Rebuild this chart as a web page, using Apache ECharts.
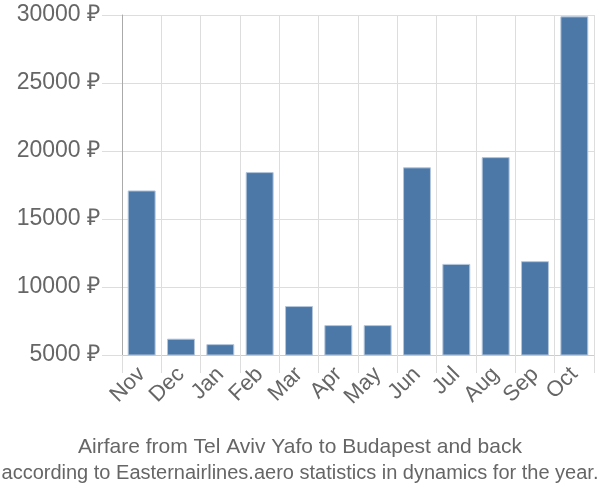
<!DOCTYPE html>
<html>
<head>
<meta charset="utf-8">
<script src="https://cdn.jsdelivr.net/npm/echarts@6/dist/echarts.min.js"></script>
<style>html,body{margin:0;padding:0;background:#fff}#c{width:600px;height:500px}</style>
</head>
<body>
<div id="c"></div>
<script>
const months = ['Nov','Dec','Jan','Feb','Mar','Apr','May','Jun','Jul','Aug','Sep','Oct'];
const prices = [17100, 6200, 5800, 18450, 8600, 7200, 7200, 18800, 11700, 19550, 11900, 29900];
const yMin = 5000, yMax = 30000, yStep = 5000;
const currency = '₽';
const titleText = 'Airfare from Tel Aviv Yafo to Budapest and back';
const subText = 'according to Easternairlines.aero statistics in dynamics for the year.';

const chart = echarts.init(document.getElementById('c'), null, {renderer: 'canvas'});
const font = 'Liberation Sans, Arial, sans-serif';
chart.setOption({
  animation: false,
  grid: {left: 122, right: 6, top: 15, bottom: 145, containLabel: false},
  title: [
    {text: titleText, left: 'center', top: 432, textStyle: {fontFamily: font, fontSize: 21, fontWeight: 'normal', color: '#666'}},
    {text: subText, left: 'center', top: 458, textStyle: {fontFamily: font, fontSize: 20, fontWeight: 'normal', color: '#666'}}
  ],
  xAxis: {
    type: 'category',
    data: months,
    boundaryGap: true,
    axisLine: {show: true, lineStyle: {color: '#ccc', width: 1}},
    axisTick: {show: true, length: 18, alignWithLabel: false, lineStyle: {color: '#ddd', width: 1}},
    splitLine: {show: true, lineStyle: {color: '#ddd', width: 1}},
    axisLabel: {rotate: 45, fontFamily: font, fontSize: 22, color: '#666', margin: 16, interval: 0}
  },
  yAxis: {
    type: 'value',
    min: yMin, max: yMax, interval: yStep,
    axisLine: {show: true, lineStyle: {color: '#aaa', width: 1}},
    axisTick: {show: true, length: 20, lineStyle: {color: '#ddd', width: 1}},
    splitLine: {show: true, lineStyle: {color: '#ddd', width: 1}},
    axisLabel: {formatter: v => v + ' ' + currency, fontFamily: font, fontSize: 23, color: '#666', margin: 22}
  },
  series: [{
    type: 'bar',
    data: prices,
    barCategoryGap: '29%',
    itemStyle: {color: '#4c78a8', borderColor: '#b4c6dc', borderWidth: 1}
  }]
});
</script>
</body>
</html>
